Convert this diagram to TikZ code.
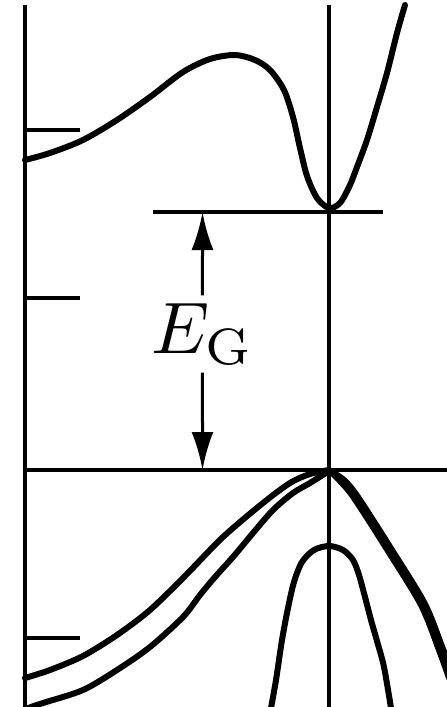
\documentclass[tikz,border=0pt]{standalone}
\usetikzlibrary{arrows.meta}

\begin{document}
\begin{tikzpicture}[x=1pt,y=-1pt,
    axis/.style={line width=4.5pt},
    band/.style={line width=6pt,line cap=round,line join=round},
    gap/.style={line width=3pt,shorten <=3pt,-{Latex[length=38pt,width=22pt]}}]
    \useasboundingbox (0,0) rectangle (447,707);
    % k = 0 and zone edge
    \coordinate (ltop) at (25,5);
    \coordinate (lbot) at (25,707);
    \coordinate (ktop) at (329,5);
    \coordinate (kbot) at (329,707);
    \draw[axis] (ltop) -- (lbot);
    \draw[axis] (ktop) -- (kbot);
    % band edges
    \coordinate (cl) at (153,212);
    \coordinate (cr) at (383,212);
    \coordinate (vl) at (25,470);
    \coordinate (vr) at (447,470);
    \draw[axis] (cl) -- (cr);
    \draw[axis] (vl) -- (vr);
    \foreach \y in {130,298,638}{\draw[axis] (25,\y) -- (80,\y);}
    % conduction band
    \draw[band] plot[smooth] coordinates {(25,160) (50,153) (83,140) (117,120) (150,97) (183,72) (210,59) (235,55) (255,60) (270,70) (284,90) (293,117) (300,148) (307,176) (317,198) (329,208) (340,203) (350,185) (357,167) (367,140) (377,107) (387,73) (397,33) (405,5)};
    % valence bands
    \draw[band] plot[smooth] coordinates {(329,470) (310,474) (290,483) (263,503) (223,537) (185,576) (150,610) (117,635) (83,656) (50,670) (25,678)};
    \draw[band] plot[smooth] coordinates {(329,471) (310,483) (293,493) (273,510) (253,533) (233,557) (215,577) (200,595) (183,617) (150,647) (117,670) (83,690) (43,703) (28,708)};
    \draw[band] plot[smooth] coordinates {(329,470) (340,481) (354,498) (388,551) (421,605) (439,650) (449,678)};
    \draw[band] plot[smooth] coordinates {(329,470) (344,480) (358,497) (392,550) (425,604) (443,649) (452,670)};
    % split-off band
    \draw[band] plot[smooth] coordinates {(271,708) (276,680) (282,640) (288,608) (294,582) (302,562) (314,550) (329,546) (343,550) (353,560) (359,575) (365,597) (371,620) (377,641) (384,667) (391,708)};
    % gap
    \coordinate (cmin) at (202.5,212);
    \coordinate (vmax) at (202.5,470);
    \node[scale=7.3,inner sep=0.5pt] (eg) at (202.5,334) {$E_{\mathrm{G}}$};
    \draw[gap] (eg) -- (cmin);
    \draw[gap] (eg) -- (vmax);
\end{tikzpicture}
\end{document}
